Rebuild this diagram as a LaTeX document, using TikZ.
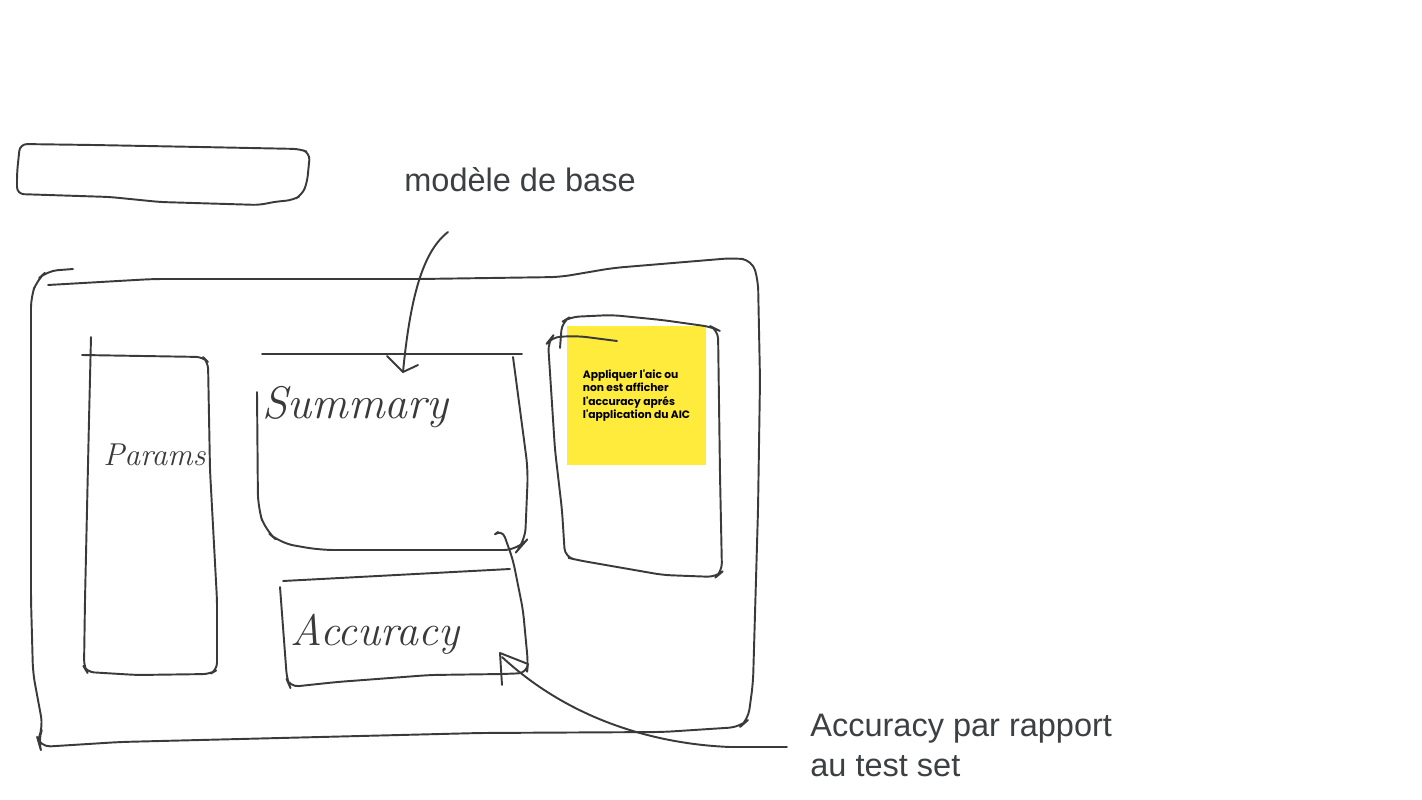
\documentclass[tikz,border=0pt]{standalone}
\usepackage{fontspec}
\newfontfamily\captionfont{Liberation Sans}
\newfontfamily\notefont{Poppins}
\usepackage{tikz}

\definecolor{ink}{HTML}{3A3A3A}
\definecolor{captiongray}{HTML}{3C4043}
\definecolor{stickyyellow}{HTML}{FFEB3B}

\begin{document}
\begin{tikzpicture}[x=0.02cm, y=-0.02cm,
    sketch/.style={draw=ink, line width=1.1pt, line cap=round, line join=round},
    hand/.style={ink, inner sep=0pt, font=\itshape\fontsize{24}{24}\selectfont},
    caption/.style={captiongray, inner sep=0pt, align=left, font=\captionfont\fontsize{18.5}{22.7}\selectfont},
    note/.style={fill=stickyyellow, minimum width=2.78cm, minimum height=2.78cm, align=left, text=black,
        font=\notefont\bfseries\fontsize{6.1}{7.6}\selectfont}]
    \useasboundingbox (0,0) rectangle (1422,800);

    % Title bar
    \draw[sketch, rounded corners=4] (20,144) -- (93,145) -- (200,147) -- (300,149) -- (310,153) -- (307,183)
        -- (302,195) -- (293,200) -- (273,202) -- (260,205) -- (160,202) -- (110,197) -- (17,194) -- (17,173) -- cycle;

    % Outer frame
    \draw[sketch, rounded corners=6] (48,285) -- (153,279) -- (420,279) -- (560,277) -- (613,268) -- (733,258)
        -- (752,260) -- (758,280) -- (760,380) -- (758,510) -- (753,683) -- (748,720) -- (740,727) -- (663,732)
        -- (480,733) -- (320,737) -- (120,742) -- (40,747) -- (38,740) -- (43,727) -- (33,673) -- (31,600)
        -- (31,297) -- (37,280) -- (47,271) -- (73,269);

    % Params panel
    \draw[sketch, rounded corners=4] (91,337) -- (89,420) -- (85,600) -- (84,667) -- (87,672) -- (137,675)
        -- (210,674) -- (217,670) -- (217,600) -- (210,470) -- (208,362) -- (203,357) -- (82,355);
    \node[hand, anchor=base west, font=\itshape\fontsize{18}{18}\selectfont] (params) at (103,465) {Params};

    % Summary panel
    \draw[sketch] (262,354) -- (522,354);
    \draw[sketch, rounded corners=8] (257,392) -- (258,507) -- (265,530) -- (280,543) -- (320,550)
        -- (518,550) -- (525,542) -- (528,470) -- (513,357);
    \node[hand, anchor=base west, font=\itshape\fontsize{26}{26}\selectfont] (summary) at (262,418) {Summary};

    % Accuracy panel
    \draw[sketch] (283,581) -- (510,569);
    \draw[sketch, rounded corners=5] (280,587) -- (287,680) -- (290,687) -- (337,682) -- (430,675)
        -- (503,674) -- (527,673) -- (528,663) -- (523,610) -- (513,560) -- (502,529) -- (498,532);
    \node[hand, anchor=base west, font=\itshape\fontsize{25}{25}\selectfont] (accuracy) at (290,645) {Accuracy};

    % Sticky note and side panel
    \node[note] (aicnote) at (636.5,395.5) {Appliquer l'aic ou\\non est afficher\\l'accuracy aprés\\l'application du AIC};
    \draw[sketch, rounded corners=5] (560,348) -- (562,322) -- (570,317) -- (612,315) -- (662,320) -- (712,327)
        -- (718,330) -- (720,475) -- (722,572) -- (716,577) -- (663,575) -- (577,560) -- (565,557)
        -- (562,510) -- (555,450) -- (548,342) -- (552,337) -- (578,336) -- (617,341);

    % Captions
    \node[caption, anchor=base west] (modele) at (404,192) {modèle de base};
    \node[caption, anchor=north west] (testset) at (810,714) {Accuracy par rapport\\au test set};

    % Arrow to summary
    \coordinate (modeletail) at (448,232);
    \coordinate (summarytip) at (403,372);
    \draw[sketch] (modeletail) .. controls (422,252) and (410,300) .. (summarytip);
    \draw[sketch] (387,356) -- (summarytip) -- (418,365);

    % Arrow to accuracy
    \coordinate (testtail) at (787,747);
    \coordinate (accuracytip) at (502,657);
    \draw[sketch] (testtail) -- (730,747) .. controls (655,744) and (570,720) .. (accuracytip);
    \draw[sketch] (502,685) -- (500,653) -- (528,664);
\end{tikzpicture}
\end{document}
